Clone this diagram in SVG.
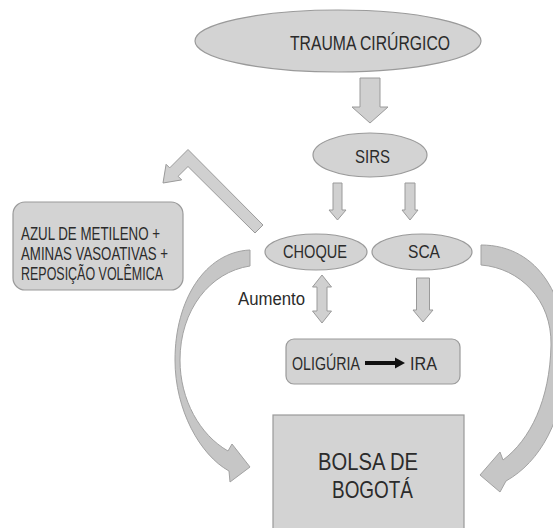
<svg xmlns="http://www.w3.org/2000/svg" width="553" height="528" viewBox="0 0 553 528">
<style>
.shape{fill:#d3d3d3;stroke:#9a9a9a;stroke-width:1.2}
.arr{fill:#d0d0d0;stroke:#9a9a9a;stroke-width:1}
.curve{fill:#c6c6c6;stroke:#a2a2a2;stroke-width:1}
.t{font-family:"Liberation Sans",Arial,sans-serif;fill:#2b2b2b}
</style>
<rect width="553" height="528" fill="#ffffff"/>
<g id="connectors">
<path class="arr" d="M360,78 H380 V107 H388 L370,123 L352,107 H360 Z"/>
<path class="arr" d="M333,183 H342 V210 H346 L337.5,220 L329,210 H333 Z"/>
<path class="arr" d="M405,183 H415 V210 H418 L410,220 L402,210 H405 Z"/>
<path class="arr" d="M322,275 L331.5,287 H327 V311 H331.5 L322,323 L312.5,311 H317 V287 H312.5 Z"/>
<path class="arr" d="M416.5,278 H429.5 V310 H433 L423,322 L413,310 H416.5 Z"/>
<path class="arr" d="M263,225 L188,149.5 L169.7,167.9 L166.1,164.3 L163,183 L181.7,179.9 L178.1,176.3 L188,166.5 L255,233 Z"/>
<path class="curve" d="M250,250 C205,252 175,300 175,360 C175,410 200,455 229,471 L230,482 L250,467 L232,444 L228,451 C200,435 180,400 180,360 C180,310 210,272 250,266 Z"/>
<path class="curve" d="M481,245 C540,245 568,300 566,360 C564,420 540,462 506,481 L500,492 L480,475 L500,452 L503,460 C530,440 550,400 551,345 C552,300 520,268 481,265 Z"/>
</g>
<g id="trauma">
<ellipse class="shape" cx="338" cy="41" rx="143" ry="31"/>
<text class="t" x="290" y="50" font-size="21" textLength="160" lengthAdjust="spacingAndGlyphs">TRAUMA CIRÚRGICO</text>
</g>
<g id="sirs">
<ellipse class="shape" cx="370" cy="155" rx="57" ry="22"/>
<text class="t" x="355" y="163" font-size="18.5" textLength="35" lengthAdjust="spacingAndGlyphs">SIRS</text>
</g>
<g id="choque">
<ellipse class="shape" cx="316" cy="252" rx="51" ry="18"/>
<text class="t" x="283" y="258" font-size="18.5" textLength="64" lengthAdjust="spacingAndGlyphs">CHOQUE</text>
</g>
<g id="sca">
<ellipse class="shape" cx="422" cy="252" rx="50" ry="18"/>
<text class="t" x="408" y="258" font-size="18.5" textLength="32" lengthAdjust="spacingAndGlyphs">SCA</text>
</g>
<g id="azul">
<rect class="shape" x="13" y="202" width="170" height="88" rx="12"/>
<text class="t" x="21" y="240" font-size="17.5" textLength="139" lengthAdjust="spacingAndGlyphs">AZUL DE METILENO +</text>
<text class="t" x="21" y="260" font-size="17.5" textLength="147" lengthAdjust="spacingAndGlyphs">AMINAS VASOATIVAS +</text>
<text class="t" x="21" y="280" font-size="17.5" textLength="142" lengthAdjust="spacingAndGlyphs">REPOSIÇÃO VOLÊMICA</text>
</g>
<g id="aumento">
<text class="t" x="238" y="305" font-size="18" textLength="67" lengthAdjust="spacingAndGlyphs">Aumento</text>
</g>
<g id="oliguria">
<rect class="shape" x="286" y="339" width="174" height="45" rx="8"/>
<text class="t" x="292" y="370" font-size="18" textLength="68" lengthAdjust="spacingAndGlyphs">OLIGÚRIA</text>
<path d="M365,361 H395 V357.5 L405,363 L395,368.5 V365 H365 Z" fill="#111111"/>
<text class="t" x="410" y="370" font-size="18" textLength="27" lengthAdjust="spacingAndGlyphs">IRA</text>
</g>
<g id="bolsa">
<rect class="shape" x="273" y="415" width="191" height="125"/>
<text class="t" x="318" y="470" font-size="24" textLength="100" lengthAdjust="spacingAndGlyphs">BOLSA DE</text>
<text class="t" x="332" y="498" font-size="24" textLength="81" lengthAdjust="spacingAndGlyphs">BOGOTÁ</text>
</g>
</svg>
